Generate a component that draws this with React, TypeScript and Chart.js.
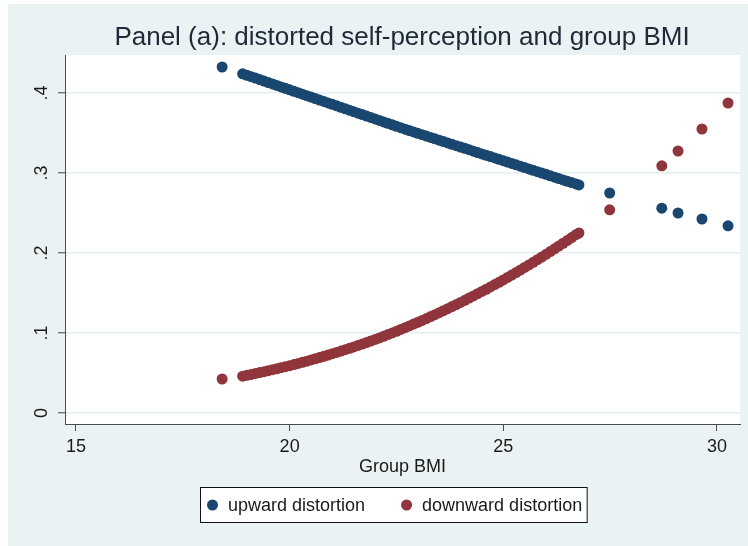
import React, { useEffect, useRef } from "react";
import { Chart, registerables } from "chart.js";

Chart.register(...registerables);

const TITLE = "Panel (a): distorted self-perception and group BMI";
const X_TITLE = "Group BMI";
const SERIES_LABELS = ["upward distortion", "downward distortion"];
const X_TICKS = [15, 20, 25, 30];
const Y_TICKS = [0, 0.1, 0.2, 0.3, 0.4];
const Y_TICK_LABELS = ["0", ".1", ".2", ".3", ".4"];

// Group BMI (shared by both series)
const bmi = [
  18.42,
  18.9, 19.0, 19.1, 19.2, 19.3, 19.4, 19.5, 19.6, 19.7, 19.8, 19.9,
  20.0, 20.1, 20.2, 20.3, 20.4, 20.5, 20.6, 20.7, 20.8, 20.9,
  21.0, 21.1, 21.2, 21.3, 21.4, 21.5, 21.6, 21.7, 21.8, 21.9,
  22.0, 22.1, 22.2, 22.3, 22.4, 22.5, 22.6, 22.7, 22.8, 22.9,
  23.0, 23.1, 23.2, 23.3, 23.4, 23.5, 23.6, 23.7, 23.8, 23.9,
  24.0, 24.1, 24.2, 24.3, 24.4, 24.5, 24.6, 24.7, 24.8, 24.9,
  25.0, 25.1, 25.2, 25.3, 25.4, 25.5, 25.6, 25.7, 25.8, 25.9,
  26.0, 26.1, 26.2, 26.3, 26.4, 26.5, 26.6, 26.7,
  26.77, 27.49, 28.71, 29.09, 29.65, 30.26,
];

const upward = [
  0.4325,
  0.424, 0.4222, 0.4204, 0.4186, 0.4168, 0.4149, 0.4131, 0.4113, 0.4095, 0.4076, 0.4058,
  0.404, 0.4022, 0.4004, 0.3985, 0.3967, 0.3949, 0.3931, 0.3912, 0.3894, 0.3876,
  0.3858, 0.384, 0.3821, 0.3803, 0.3785, 0.3767, 0.3748, 0.373, 0.3712, 0.3694,
  0.3676, 0.3657, 0.3639, 0.3621, 0.3603, 0.3584, 0.3566, 0.3548, 0.353, 0.3513,
  0.3496, 0.3479, 0.3462, 0.3445, 0.3427, 0.341, 0.3393, 0.3376, 0.3359, 0.3342,
  0.3325, 0.3308, 0.3291, 0.3273, 0.3256, 0.3239, 0.3222, 0.3205, 0.3188, 0.3171,
  0.3154, 0.3137, 0.3119, 0.3102, 0.3085, 0.3068, 0.3051, 0.3034, 0.3017, 0.3,
  0.2983, 0.2965, 0.2948, 0.2931, 0.2914, 0.2897, 0.288, 0.2863,
  0.2851, 0.275, 0.256, 0.25, 0.2425, 0.234,
];

const downward = [
  0.0425,
  0.046, 0.0471, 0.0482, 0.0494, 0.0505, 0.0517, 0.0529, 0.0541, 0.0553, 0.0566, 0.0579,
  0.0592, 0.0606, 0.062, 0.0634, 0.0648, 0.0663, 0.0678, 0.0693, 0.0709, 0.0725,
  0.0741, 0.0757, 0.0774, 0.0791, 0.0808, 0.0826, 0.0844, 0.0862, 0.0881, 0.09,
  0.0919, 0.0939, 0.0959, 0.098, 0.1001, 0.1022, 0.1044, 0.1066, 0.1088, 0.1111,
  0.1134, 0.1157, 0.1181, 0.1205, 0.1229, 0.1254, 0.1279, 0.1304, 0.133, 0.1356,
  0.1382, 0.1409, 0.1436, 0.1463, 0.1491, 0.1519, 0.1547, 0.1576, 0.1605, 0.1634,
  0.1664, 0.1694, 0.1725, 0.1756, 0.1787, 0.1819, 0.1851, 0.1884, 0.1917, 0.195,
  0.1984, 0.2018, 0.2052, 0.2087, 0.2122, 0.2157, 0.2193, 0.2229,
  0.225, 0.254, 0.309, 0.3275, 0.355, 0.3875,
];

const BLUE = "#1a476f";
const RED = "#90353b";
const BG = "#eaf2f3";
const GRID = "#e4eef0";
const AXIS = "#4a4a4a";
const TEXT = "#1a1a1a";
const TITLE_COLOR = "#1e2a38";
const FONT = "'Liberation Sans', Arial, Helvetica, sans-serif";

const bgPlugin = {
  id: "bgPlugin",
  beforeDraw(chart: any) {
    const { ctx, width, height, chartArea: a } = chart;
    ctx.save();
    ctx.fillStyle = "#ffffff";
    ctx.fillRect(0, 0, width, height);
    ctx.fillStyle = BG;
    ctx.fillRect(8, 4, width - 8, height - 4);
    ctx.fillStyle = "#ffffff";
    ctx.fillRect(a.left, a.top, a.right - a.left, a.bottom - a.top);
    ctx.restore();
  },
};

const yLabelPlugin = {
  id: "yLabelPlugin",
  afterDraw(chart: any) {
    const { ctx } = chart;
    const ys = chart.scales.y;
    ctx.save();
    ctx.fillStyle = TEXT;
    ctx.font = `18px ${FONT}`;
    ctx.textAlign = "center";
    ctx.textBaseline = "middle";
    Y_TICKS.forEach((v, i) => {
      const py = ys.getPixelForValue(v);
      ctx.save();
      ctx.translate(ys.left - 22, py);
      ctx.rotate(-Math.PI / 2);
      ctx.fillText(Y_TICK_LABELS[i], 0, 0);
      ctx.restore();
    });
    ctx.restore();
  },
};

const legendPlugin = {
  id: "boxLegend",
  afterDraw(chart: any) {
    const { ctx, chartArea: a } = chart;
    ctx.save();
    ctx.font = `18px ${FONT}`;
    const datasets = chart.data.datasets;
    const r = 5.5;
    const padL = 6.5;
    const padR = 5;
    const gapText = 10;
    const gapItem = 36;
    const widths = datasets.map((d: any) => ctx.measureText(d.label).width);
    const total =
      padL + padR +
      widths.reduce((s: number, w: number) => s + 2 * r + gapText + w, 0) +
      gapItem * (datasets.length - 1);
    const cx = (a.left + a.right) / 2 - 9;
    const left = Math.round(cx - total / 2) + 0.5;
    const top = a.bottom + 63.5;
    const h = 35;
    ctx.fillStyle = "#ffffff";
    ctx.fillRect(left, top, total, h);
    ctx.strokeStyle = "#111111";
    ctx.lineWidth = 1;
    ctx.strokeRect(left, top, total, h);
    let x = left + padL;
    const cy = top + h / 2;
    datasets.forEach((d: any, i: number) => {
      ctx.fillStyle = d.backgroundColor;
      ctx.beginPath();
      ctx.arc(x + r, cy, r, 0, Math.PI * 2);
      ctx.fill();
      x += 2 * r + gapText;
      ctx.fillStyle = TEXT;
      ctx.textAlign = "left";
      ctx.textBaseline = "middle";
      ctx.fillText(d.label, x, cy + 1);
      x += widths[i] + gapItem;
    });
    ctx.restore();
  },
};

export default function App() {
  const ref = useRef<HTMLCanvasElement>(null);
  useEffect(() => {
    document.body.style.margin = "0";
    const canvas = ref.current!;
    const chart = new Chart(canvas, {
      type: "scatter",
      data: {
        datasets: [
          {
            label: SERIES_LABELS[0],
            data: bmi.map((x, i) => ({ x, y: upward[i] })),
            backgroundColor: BLUE,
            borderColor: BLUE,
            borderWidth: 0,
            pointRadius: 5.5,
          },
          {
            label: SERIES_LABELS[1],
            data: bmi.map((x, i) => ({ x, y: downward[i] })),
            backgroundColor: RED,
            borderColor: RED,
            borderWidth: 0,
            pointRadius: 5.5,
          },
        ],
      },
      options: {
        responsive: false,
        animation: false,
        devicePixelRatio: 1,
        layout: { padding: { left: 64, right: 8, top: 0, bottom: 68 } },
        plugins: {
          legend: { display: false },
          tooltip: { enabled: false },
          title: {
            display: true,
            text: TITLE,
            color: TITLE_COLOR,
            font: { family: FONT, size: 26, weight: "normal" },
            padding: { top: 22.4, bottom: 1.4 },
          },
        },
        scales: {
          x: {
            type: "linear",
            min: 14.743,
            max: 30.54,
            afterBuildTicks: (s: any) => {
              s.ticks = X_TICKS.map((v) => ({ value: v }));
            },
            afterFit: (s: any) => {
              s.height = 54;
            },
            grid: {
              drawOnChartArea: false,
              drawTicks: true,
              tickLength: 7,
              tickColor: AXIS,
            },
            border: { display: true, color: AXIS, width: 1 },
            ticks: {
              padding: 5,
              color: TEXT,
              font: { family: FONT, size: 18 },
              maxRotation: 0,
              autoSkip: false,
            },
            title: {
              display: true,
              text: X_TITLE,
              color: TEXT,
              font: { family: FONT, size: 18 },
              padding: { top: 0, bottom: 0 },
            },
          },
          y: {
            type: "linear",
            min: -0.01375,
            max: 0.4475,
            afterBuildTicks: (s: any) => {
              s.ticks = Y_TICKS.map((v) => ({ value: v }));
            },
            afterFit: (s: any) => {
              s.width = 1;
            },
            grid: {
              color: GRID,
              lineWidth: 1.5,
              drawTicks: true,
              tickLength: 7,
              tickColor: AXIS,
              tickWidth: 1,
            },
            border: { display: true, color: AXIS, width: 1 },
            ticks: { display: false },
          },
        },
      },
      plugins: [bgPlugin, yLabelPlugin, legendPlugin],
    } as any);
    return () => chart.destroy();
  }, []);
  return <canvas ref={ref} width={748} height={546} style={{ display: "block" }} />;
}
